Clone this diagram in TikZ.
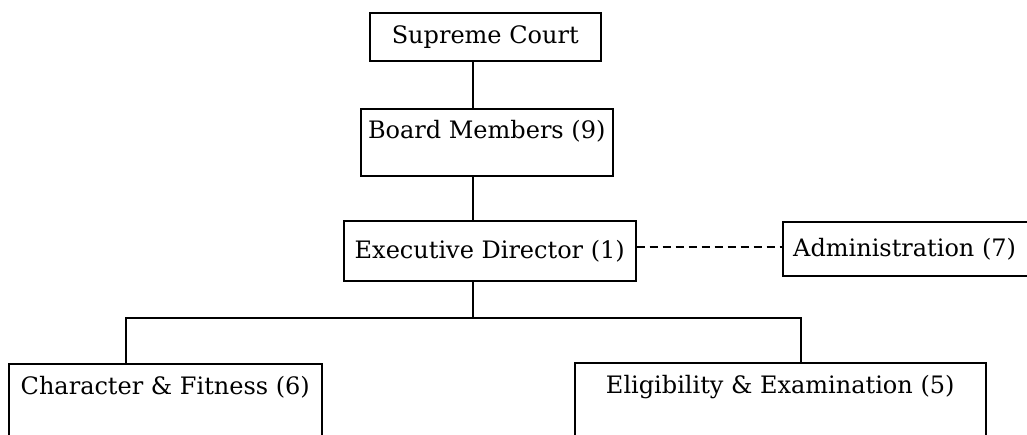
\documentclass[tikz,border=0pt]{standalone}
\usepackage{fontspec}
\setmainfont{DejaVu Serif}
\usetikzlibrary{calc}
\tikzset{
  box/.style={draw, line width=1.5pt, rectangle, inner sep=0pt},
  lbl/.style={font=\fontsize{24}{28}\selectfont, inner sep=0pt},
  conn/.style={line width=1.5pt},
  dconn/.style={line width=1.5pt, dash pattern=on 8pt off 5pt},
}
\begin{document}
\begin{tikzpicture}[x=1pt,y=-1pt]
\useasboundingbox (0,0) rectangle (1027,434);
\clip (0,0) rectangle (1027,434);
% boxes
\node[box, minimum width=231pt, minimum height=48pt, anchor=north west] (sc) at (369,12) {};
\node[lbl] (sct) at (sc.center) {Supreme Court};
\node[box, minimum width=252pt, minimum height=67pt, anchor=north west] (bm) at (360,108) {};
\node[lbl] (bmt) at ($(bm.north)+(0,23)$) {Board Members (9)};
\node[box, minimum width=292pt, minimum height=60pt, anchor=north west] (ed) at (343,220) {};
\node[lbl] (edt) at (ed.center) {Executive Director (1)};
\node[box, minimum width=320pt, minimum height=54pt, anchor=north west] (adm) at (782,221) {};
\node[lbl, anchor=west] (admt) at ($(adm.west)+(11,0)$) {Administration (7)};
\node[box, minimum width=313pt, minimum height=140pt, anchor=north west] (cf) at (8,363) {};
\node[lbl] (cft) at ($(cf.north)+(0,24)$) {Character \& Fitness (6)};
\node[box, minimum width=411pt, minimum height=140pt, anchor=north west] (ee) at (574,362) {};
\node[lbl] (eet) at ($(ee.north)+(0,25)$) {Eligibility \& Examination (5)};
% connectors
\coordinate (bus) at (473,318);
\draw[conn] (sc.south -| bus) -- (bm.north -| bus);
\draw[conn] (bm.south -| bus) -- (ed.north -| bus);
\draw[conn] (ed.south -| bus) -- (bus);
\draw[conn] (cf.north -| 126,0) |- (bus) -| (ee.north -| 801,0);
\draw[dconn] (ed.east |- 0,247) -- (adm.west |- 0,247);
\end{tikzpicture}
\end{document}
